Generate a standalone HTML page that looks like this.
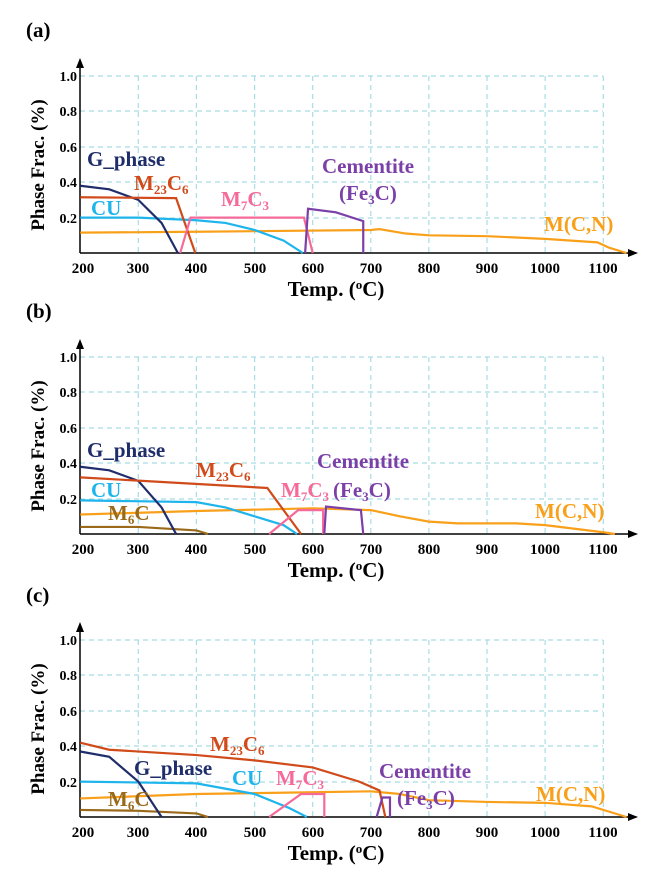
<!DOCTYPE html><html><head><style>body{margin:0;background:#fff}svg{display:block}text{font-family:"Liberation Serif",serif;font-weight:bold}</style></head><body>
<svg width="659" height="886" viewBox="0 0 659 886" xmlns="http://www.w3.org/2000/svg">
<defs>
<g id="axes">
<g stroke="#a8dde3" stroke-width="1.2" stroke-dasharray="5,4" fill="none">
<path d="M80 76H603M80 111H603M80 147H603M80 182H603M80 218H603"/>
<path d="M138.3 76V253M196.4 76V253M254.6 76V253M312.7 76V253M370.8 76V253M428.9 76V253M487 76V253M545.1 76V253M603.3 76V253"/>
</g>
<g stroke="#000" stroke-width="1.5" fill="none"><path d="M80 253H630M80 253V66"/></g>
<path d="M80 58l-4 10h8z M638 253l-10 -4v8z" fill="#000"/>
<g font-size="14" text-anchor="end"><text x="77" y="81">1.0</text><text x="77" y="116">0.8</text><text x="77" y="152">0.6</text><text x="77" y="187">0.4</text><text x="77" y="223">0.2</text></g>
<g font-size="15" text-anchor="middle"><text x="83" y="273">200</text><text x="138" y="273">300</text><text x="196" y="273">400</text><text x="255" y="273">500</text><text x="313" y="273">600</text><text x="371" y="273">700</text><text x="429" y="273">800</text><text x="487" y="273">900</text><text x="545" y="273">1000</text><text x="603" y="273">1100</text></g>
<text x="336" y="296" font-size="21" text-anchor="middle">Temp. (<tspan font-size="13" dy="-7">o</tspan><tspan dy="7">C)</tspan></text>
<text transform="translate(44,165) rotate(-90)" font-size="19" text-anchor="middle">Phase Frac. (%)</text>
</g>
</defs>
<!-- (a) -->
<text x="26" y="37" font-size="21">(a)</text>
<use href="#axes"/>
<g transform="translate(80.2,253) scale(0.5812,-177) translate(-200,0)" fill="none" stroke-width="2.2">
<polyline vector-effect="non-scaling-stroke" stroke="#f9a01b" points="200,0.115 400,0.12 700,0.13 715,0.135 760,0.11 800,0.1 900,0.095 1000,0.08 1090,0.06 1110,0.03 1140,0"/>
<polyline vector-effect="non-scaling-stroke" stroke="#1eb4ec" points="200,0.2 300,0.2 400,0.185 450,0.17 500,0.13 550,0.07 583,0"/>
<polyline vector-effect="non-scaling-stroke" stroke="#1f2d6b" points="200,0.38 250,0.36 300,0.3 340,0.17 368,0"/>
<polyline vector-effect="non-scaling-stroke" stroke="#d04a1a" points="200,0.315 365,0.31 398,0"/>
<polyline vector-effect="non-scaling-stroke" stroke="#f66a9a" points="372,0 390,0.2 585,0.2 600,0"/>
<polyline vector-effect="non-scaling-stroke" stroke="#7b3fa8" points="587,0 592,0.25 640,0.23 687,0.18 687,0"/>
</g>
<g font-size="21">
<text x="87" y="166" fill="#1f2d6b">G_phase</text>
<text x="134" y="190" fill="#d04a1a">M<tspan font-size="13" dy="4">23</tspan><tspan dy="-4">C</tspan><tspan font-size="13" dy="4">6</tspan></text>
<text x="91" y="215" fill="#1eb4ec">CU</text>
<text x="221" y="206" fill="#f66a9a">M<tspan font-size="13" dy="4">7</tspan><tspan dy="-4">C</tspan><tspan font-size="13" dy="4">3</tspan></text>
<text x="322" y="173" fill="#7b3fa8">Cementite</text>
<text x="339" y="200" fill="#7b3fa8">(Fe<tspan font-size="13" dy="4">3</tspan><tspan dy="-4">C)</tspan></text>
<text x="544" y="231" fill="#f9a01b">M(C,N)</text>
</g>
<!-- (b) -->
<text x="26" y="318" font-size="21">(b)</text>
<use href="#axes" y="281"/>
<g transform="translate(80.2,534) scale(0.5812,-177) translate(-200,0)" fill="none" stroke-width="2.2">
<polyline vector-effect="non-scaling-stroke" stroke="#f9a01b" points="200,0.11 400,0.13 600,0.145 700,0.135 750,0.1 800,0.07 850,0.06 950,0.06 1000,0.05 1100,0.01 1120,0"/>
<polyline vector-effect="non-scaling-stroke" stroke="#1eb4ec" points="200,0.19 400,0.18 450,0.15 500,0.1 550,0.05 573,0"/>
<polyline vector-effect="non-scaling-stroke" stroke="#9a6a1a" points="200,0.04 300,0.04 400,0.02 420,0"/>
<polyline vector-effect="non-scaling-stroke" stroke="#1f2d6b" points="200,0.38 250,0.36 300,0.3 340,0.15 365,0"/>
<polyline vector-effect="non-scaling-stroke" stroke="#d04a1a" points="200,0.32 522,0.26 580,0"/>
<polyline vector-effect="non-scaling-stroke" stroke="#f66a9a" points="525,0 575,0.135 618,0.135 618,0"/>
<polyline vector-effect="non-scaling-stroke" stroke="#7b3fa8" points="620,0 623,0.155 683,0.135 687,0"/>
</g>
<g font-size="21">
<text x="87" y="457" fill="#1f2d6b">G_phase</text>
<text x="196" y="477" fill="#d04a1a">M<tspan font-size="13" dy="4">23</tspan><tspan dy="-4">C</tspan><tspan font-size="13" dy="4">6</tspan></text>
<text x="91" y="497" fill="#1eb4ec">CU</text>
<text x="281" y="497" fill="#f66a9a">M<tspan font-size="13" dy="4">7</tspan><tspan dy="-4">C</tspan><tspan font-size="13" dy="4">3</tspan></text>
<text x="317" y="468" fill="#7b3fa8">Cementite</text>
<text x="333" y="497" fill="#7b3fa8">(Fe<tspan font-size="13" dy="4">3</tspan><tspan dy="-4">C)</tspan></text>
<text x="108" y="520" fill="#9a6a1a">M<tspan font-size="13" dy="4">6</tspan><tspan dy="-4">C</tspan></text>
<text x="535" y="518" fill="#f9a01b">M(C,N)</text>
</g>
<!-- (c) -->
<text x="26" y="602" font-size="21">(c)</text>
<use href="#axes" y="564"/>
<g transform="translate(80.2,817) scale(0.5812,-177) translate(-200,0)" fill="none" stroke-width="2.2">
<polyline vector-effect="non-scaling-stroke" stroke="#f9a01b" points="200,0.105 400,0.13 600,0.14 700,0.145 750,0.13 800,0.095 900,0.085 1000,0.08 1080,0.06 1140,0"/>
<polyline vector-effect="non-scaling-stroke" stroke="#1eb4ec" points="200,0.2 400,0.19 500,0.13 560,0.05 590,0"/>
<polyline vector-effect="non-scaling-stroke" stroke="#9a6a1a" points="200,0.04 300,0.035 400,0.02 420,0"/>
<polyline vector-effect="non-scaling-stroke" stroke="#1f2d6b" points="200,0.37 250,0.34 300,0.2 340,0"/>
<polyline vector-effect="non-scaling-stroke" stroke="#d04a1a" points="200,0.42 250,0.38 400,0.35 500,0.32 600,0.28 680,0.2 715,0.15 725,0"/>
<polyline vector-effect="non-scaling-stroke" stroke="#f66a9a" points="525,0 580,0.13 620,0.13 620,0"/>
<polyline vector-effect="non-scaling-stroke" stroke="#7b3fa8" points="710,0 720,0.11 733,0.11 733,0"/>
</g>
<g font-size="21">
<text x="210" y="751" fill="#d04a1a">M<tspan font-size="13" dy="4">23</tspan><tspan dy="-4">C</tspan><tspan font-size="13" dy="4">6</tspan></text>
<text x="134" y="775" fill="#1f2d6b">G_phase</text>
<text x="232" y="785" fill="#1eb4ec">CU</text>
<text x="276" y="785" fill="#f66a9a">M<tspan font-size="13" dy="4">7</tspan><tspan dy="-4">C</tspan><tspan font-size="13" dy="4">3</tspan></text>
<text x="379" y="778" fill="#7b3fa8">Cementite</text>
<text x="397" y="805" fill="#7b3fa8">(Fe<tspan font-size="13" dy="4">3</tspan><tspan dy="-4">C)</tspan></text>
<text x="108" y="806" fill="#9a6a1a">M<tspan font-size="13" dy="4">6</tspan><tspan dy="-4">C</tspan></text>
<text x="536" y="801" fill="#f9a01b">M(C,N)</text>
</g>
</svg>
</body></html>
